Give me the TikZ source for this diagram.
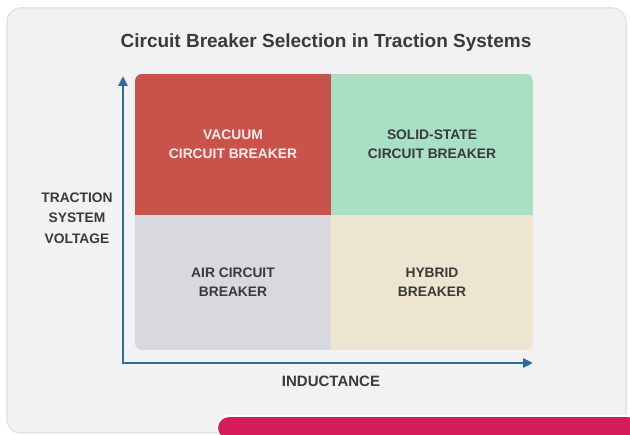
\documentclass[tikz,border=0pt]{standalone}
\usepackage{fontspec}
\setmainfont{Liberation Sans}
\usetikzlibrary{arrows.meta}
\definecolor{cardfill}{HTML}{F2F2F2}
\definecolor{cardline}{HTML}{E4E4E4}
\definecolor{pinkbar}{HTML}{D41C5A}
\definecolor{qred}{HTML}{C9524B}
\definecolor{qgreen}{HTML}{A9DFC5}
\definecolor{qgray}{HTML}{D8D9DD}
\definecolor{qbeige}{HTML}{EEE5D0}
\definecolor{axisblue}{HTML}{2E6B9E}
\definecolor{txtdark}{HTML}{3A3A3A}
\definecolor{txtlight}{HTML}{F7EEEC}
\tikzset{
  quad/.style={rectangle, inner sep=0pt, minimum width=198pt, minimum height=#1, align=center,
    font=\fontsize{13.8}{19}\selectfont\bfseries, text=txtdark},
  axislbl/.style={align=center, font=\fontsize{13.8}{20.5}\selectfont\bfseries, text=txtdark},
  axisline/.style={draw=axisblue, line width=2.6pt, -{Triangle[length=10pt,width=9pt]}},
}
\begin{document}
\begin{tikzpicture}[x=1pt,y=-1pt]
\useasboundingbox (0,0) rectangle (630,435);
\fill[white] (0,0) rectangle (630,435);
% card
\draw[cardline, line width=1.5pt, fill=cardfill, rounded corners=14pt] (7,8) rectangle (626,433);
% pink bar
\draw[white, line width=2pt, fill=pinkbar, rounded corners=12pt] (217,416) -- (217,440) -- (640,440) -- (640,416) -- cycle;
% title
\node[font=\fontsize{19}{22}\selectfont\bfseries, text=txtdark] (title) at (326,43) {Circuit Breaker Selection in Traction Systems};
% quadrants
\begin{scope}
\clip[rounded corners=7pt] (135,74) rectangle (533,350);
\node[quad=141pt, fill=qred, text=txtlight, minimum width=196pt] (vac) at (233,144.5) {VACUUM\\CIRCUIT BREAKER};
\node[quad=141pt, fill=qgreen, minimum width=202pt] (ss) at (432,144.5) {SOLID-STATE\\CIRCUIT BREAKER};
\node[quad=135pt, fill=qgray, minimum width=196pt] (air) at (233,282.5) {AIR CIRCUIT\\BREAKER};
\node[quad=135pt, fill=qbeige, minimum width=202pt] (hyb) at (432,282.5) {HYBRID\\BREAKER};
\end{scope}
% axes
\coordinate (origin) at (123,363);
\coordinate (ytip) at (123,76);
\coordinate (xtip) at (533,363);
\draw[axisline] ([yshift=1.3pt]origin) -- (ytip);
\draw[axisline] ([xshift=-1.3pt]origin) -- (xtip);
\node[axislbl, font=\fontsize{15}{20.5}\selectfont\bfseries] (xlbl) at (331,381) {INDUCTANCE};
\node[axislbl] (ylbl) at (77,218) {TRACTION\\SYSTEM\\VOLTAGE};
\end{tikzpicture}
\end{document}
